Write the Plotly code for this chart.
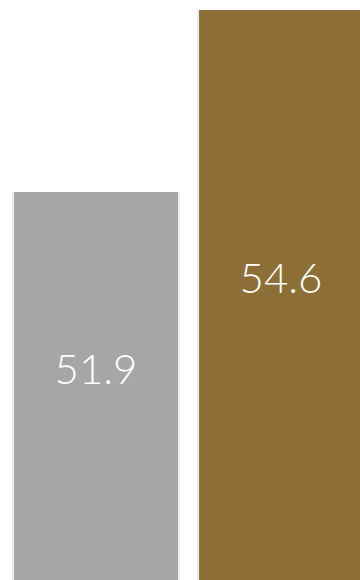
import plotly.graph_objects as go

# Two-bar comparison
categories = ["A", "B"]
values = [51.9, 54.6]
bar_colors = ["#a6a6a6", "#8d6e37"]
labels = ["51.9", "54.6"]

# value labels sit halfway between the bar top and this level
label_floor = 46.52

x_pos = list(range(len(categories)))
label_y = [(v + label_floor) / 2 for v in values]

fig = go.Figure()

# soft shadow behind each bar
fig.add_trace(go.Bar(
    x=x_pos, y=values, width=0.91,
    marker=dict(color="rgba(0,0,0,0.07)", line=dict(width=0)),
    hoverinfo="skip", showlegend=False,
))

fig.add_trace(go.Bar(
    x=x_pos, y=values, width=0.886,
    marker=dict(color=bar_colors, line=dict(width=0)),
    showlegend=False,
))

fig.add_trace(go.Scatter(
    x=x_pos, y=label_y, mode="text",
    text=labels, textposition="middle center",
    textfont=dict(family="Lato", size=42, color="white", weight=300),
    hoverinfo="skip", showlegend=False,
))

fig.update_layout(
    width=360, height=580,
    margin=dict(l=0, r=0, t=0, b=0),
    paper_bgcolor="white", plot_bgcolor="white",
    barmode="overlay",
    xaxis=dict(range=[-0.519, 1.427], visible=False, fixedrange=True),
    yaxis=dict(range=[46.14, 54.75], visible=False, fixedrange=True),
)

fig.write_html("out.html", config={"displayModeBar": False})
